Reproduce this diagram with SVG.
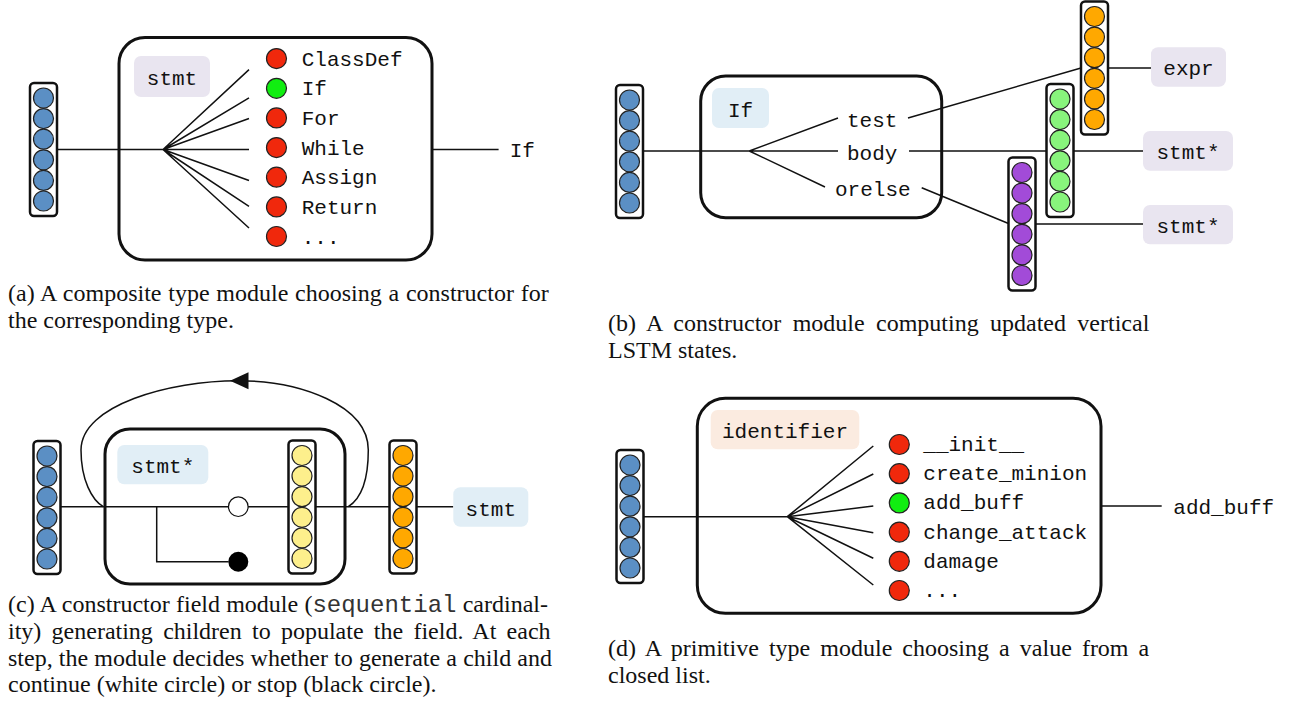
<svg xmlns="http://www.w3.org/2000/svg" width="1307" height="718" viewBox="0 0 1307 718">
<style>
.bg{fill:#ffffff}
.vec{fill:#ffffff;stroke:#111;stroke-width:2.5}
.box{fill:#ffffff;stroke:#111;stroke-width:3}
.ln{fill:none;stroke:#111;stroke-width:1.5}
.c{stroke:#222;stroke-width:1.2}
.blue{fill:#5b8fc4}
.red{fill:#f0280c}
.grn{fill:#11ee11}
.org{fill:#ffa800}
.lg{fill:#88f47c}
.pur{fill:#a24bd8}
.yel{fill:#fdef8c}
.lav{fill:#e9e5f0}
.lbl{fill:#e1eef6}
.pch{fill:#fbebe0}
.mono{font-family:"Liberation Mono","DejaVu Sans Mono",monospace;font-size:21px;fill:#111}
.mid{text-anchor:middle}
.cap{font-family:"Liberation Serif","Times New Roman",serif;font-size:24px;fill:#111}
.capm{font-family:"Liberation Mono",monospace;font-size:24px;fill:#333}
</style>
<defs>
<g id="vcol">
<rect class="vec" x="-13.5" y="0" width="27" height="133" rx="4"/>
<circle class="c" cx="0" cy="15" r="10"/>
<circle class="c" cx="0" cy="35.6" r="10"/>
<circle class="c" cx="0" cy="56.2" r="10"/>
<circle class="c" cx="0" cy="76.8" r="10"/>
<circle class="c" cx="0" cy="97.4" r="10"/>
<circle class="c" cx="0" cy="118" r="10"/>
</g>
</defs>
<rect class="bg" x="0" y="0" width="1307" height="718"/>

<!-- Panel (a) -->
<g id="a-box"><rect class="box" x="119" y="37.5" width="313" height="222.5" rx="26"/></g>
<g id="a-label"><rect class="lav" x="134" y="56" width="76" height="41" rx="7"/><text class="mono mid" x="172" y="85">stmt</text></g>
<g id="a-vec"><use href="#vcol" x="43.5" y="83" class="blue"/></g>
<g id="a-connectors">
<path class="ln" d="M57 149.5 H163 M163 149.5 L249 69.6 M163 149.5 L249 97.8 M163 149.5 L249 118.5 M163 149.5 L249 149.5 M163 149.5 L249 180.5 M163 149.5 L249 206.3 M163 149.5 L249 228 M432 149.5 H498.6"/>
</g>
<g id="a-opts">
<circle class="c red" cx="276.5" cy="58.6" r="10"/><text class="mono" x="301.7" y="65.6">ClassDef</text>
<circle class="c grn" cx="276.5" cy="88.3" r="10"/><text class="mono" x="301.7" y="95.3">If</text>
<circle class="c red" cx="276.5" cy="117.9" r="10"/><text class="mono" x="301.7" y="124.9">For</text>
<circle class="c red" cx="276.5" cy="147.6" r="10"/><text class="mono" x="301.7" y="154.6">While</text>
<circle class="c red" cx="276.5" cy="177.2" r="10"/><text class="mono" x="301.7" y="184.2">Assign</text>
<circle class="c red" cx="276.5" cy="206.9" r="10"/><text class="mono" x="301.7" y="213.9">Return</text>
<circle class="c red" cx="276.5" cy="236.5" r="10"/><text class="mono" x="301.7" y="243.5">...</text>
</g>
<g id="a-out"><text class="mono" x="509.7" y="157">If</text></g>
<text class="cap" x="8" y="301" word-spacing="0.76">(a) A composite type module choosing a constructor for</text>
<text class="cap" x="8" y="328">the corresponding type.</text>

<!-- Panel (b) -->
<g id="b-box"><rect class="box" x="700.7" y="76" width="241" height="141.7" rx="25"/></g>
<g id="b-label"><rect class="lbl" x="712" y="88" width="57" height="40" rx="7"/><text class="mono mid" x="740.5" y="116.5">If</text></g>
<g id="b-vec"><use href="#vcol" x="629.5" y="85" class="blue"/></g>
<g id="b-org"><use href="#vcol" x="1094.5" y="1.5" class="org"/></g>
<g id="b-grn"><use href="#vcol" x="1060" y="84" class="lg"/></g>
<g id="b-pur"><use href="#vcol" x="1022" y="157.5" class="pur"/></g>
<g id="b-connectors">
<path class="ln" d="M643 151 H749.3 L838 118 M749.3 151 H838 M749.3 151 L825 187 M908 118 L1081 68 M1108 68 H1151 M909 151 H1046.5 M1073.5 151 H1143 M921.7 187.7 L1008.5 223.5 M1035.5 224 H1143"/>
</g>
<g id="b-fields">
<text class="mono" x="847" y="127">test</text>
<text class="mono" x="847" y="160">body</text>
<text class="mono" x="835" y="196">orelse</text>
</g>
<g id="b-expr"><rect class="lav" x="1151" y="47.3" width="75" height="39.4" rx="7"/><text class="mono mid" x="1188.5" y="75">expr</text></g>
<g id="b-stmt1"><rect class="lav" x="1143" y="131" width="90" height="39.7" rx="7"/><text class="mono mid" x="1188" y="159">stmt*</text></g>
<g id="b-stmt2"><rect class="lav" x="1143" y="205" width="90" height="39.3" rx="7"/><text class="mono mid" x="1188" y="232.5">stmt*</text></g>
<text class="cap" x="608" y="331" word-spacing="5.35">(b) A constructor module computing updated vertical</text>
<text class="cap" x="608" y="358">LSTM states.</text>

<!-- Panel (c) -->
<g id="c-box"><rect class="box" x="105" y="429" width="240" height="155" rx="25"/></g>
<g id="c-label"><rect class="lbl" x="117.3" y="445" width="91" height="39.3" rx="7"/><text class="mono mid" x="162.8" y="473.3">stmt*</text></g>
<g id="c-vec"><use href="#vcol" x="47" y="441" class="blue"/></g>
<g id="c-yel"><use href="#vcol" x="302" y="440.5" class="yel"/></g>
<g id="c-org"><use href="#vcol" x="403" y="440.5" class="org"/></g>
<g id="c-connectors">
<path class="ln" d="M60.7 506.7 H228.5 M248 506.7 H288.5 M315.5 506.7 H389.5 M416.5 506.7 H453.3 M156.7 506.7 V561.7 H228.5"/>
<path class="ln" d="M348.3 506.7 C362 498 368.3 480 368.3 450 C368.3 405 300 380.7 238 380.7 C170 380.7 81 405 81 450 C81 480 92 500 103.3 506.7"/>
<polygon points="230,380.7 248.5,372.3 248.5,389.3" fill="#111"/>
</g>
<g id="c-cont"><circle cx="238.3" cy="506.7" r="9.8" fill="#fff" stroke="#111" stroke-width="1.2"/></g>
<g id="c-stop"><circle cx="238.3" cy="561.7" r="10" fill="#000"/></g>
<g id="c-stmt"><rect class="lbl" x="453.3" y="487.3" width="75" height="39.4" rx="7"/><text class="mono mid" x="490.8" y="516">stmt</text></g>
<text class="cap" x="8" y="612" word-spacing="0.23">(c) A constructor field module (<tspan class="capm">sequential</tspan> cardinal-</text>
<text class="cap" x="8" y="639" word-spacing="4.26">ity) generating children to populate the field. At each</text>
<text class="cap" x="8" y="665.5" word-spacing="0.17">step, the module decides whether to generate a child and</text>
<text class="cap" x="8" y="692">continue (white circle) or stop (black circle).</text>

<!-- Panel (d) -->
<g id="d-box"><rect class="box" x="697.3" y="398.3" width="403.7" height="215" rx="28"/></g>
<g id="d-label"><rect class="pch" x="710.7" y="410" width="148.6" height="39.3" rx="7"/><text class="mono mid" x="785" y="437.7">identifier</text></g>
<g id="d-vec"><use href="#vcol" x="630" y="450" class="blue"/></g>
<g id="d-connectors">
<path class="ln" d="M643.3 516.7 H787.3 M787.3 516.7 L873.3 446 M787.3 516.7 L873.3 474 M787.3 516.7 L873.3 506 M787.3 516.7 L873.3 532.7 M787.3 516.7 L873.3 558.3 M787.3 516.7 L873.3 585 M1101 506 H1161.7"/>
</g>
<g id="d-opts">
<circle class="c red" cx="899.3" cy="444.5" r="10"/><text class="mono" x="923.3" y="451">__init__</text>
<circle class="c red" cx="899.3" cy="473.7" r="10"/><text class="mono" x="923.3" y="480.2">create_minion</text>
<circle class="c grn" cx="899.3" cy="502.9" r="10"/><text class="mono" x="923.3" y="509.4">add_buff</text>
<circle class="c red" cx="899.3" cy="532.1" r="10"/><text class="mono" x="923.3" y="538.6">change_attack</text>
<circle class="c red" cx="899.3" cy="561.3" r="10"/><text class="mono" x="923.3" y="567.8">damage</text>
<circle class="c red" cx="899.3" cy="590.5" r="10"/><text class="mono" x="923.3" y="597">...</text>
</g>
<g id="d-out"><text class="mono" x="1173.3" y="514">add_buff</text></g>
<text class="cap" x="608" y="656" word-spacing="4.08">(d) A primitive type module choosing a value from a</text>
<text class="cap" x="608" y="683">closed list.</text>
</svg>
